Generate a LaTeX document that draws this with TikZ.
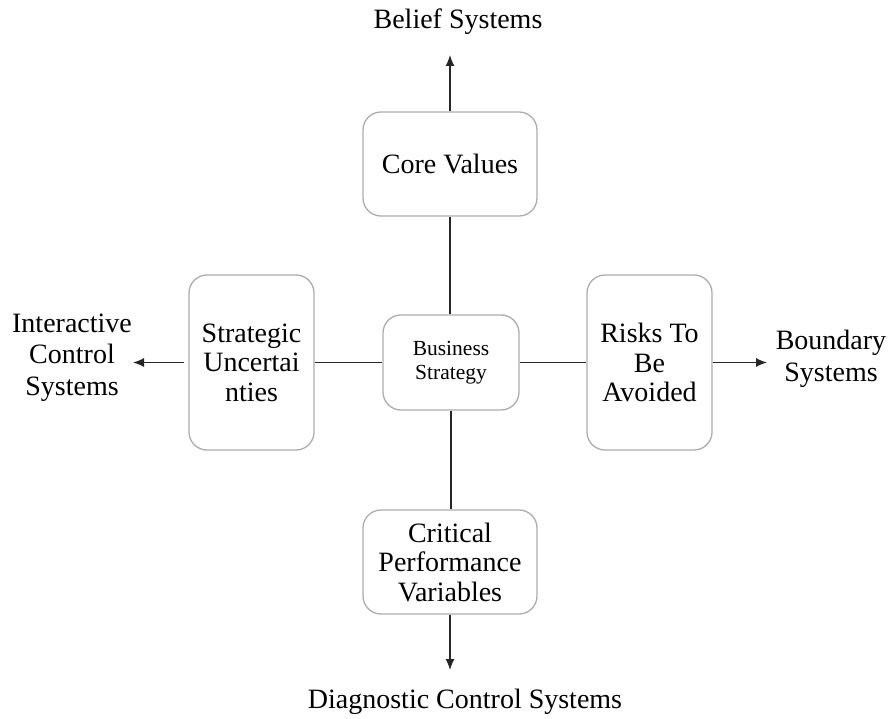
\documentclass[tikz,border=0pt]{standalone}
\usepackage{fontspec}
\setmainfont{Liberation Serif}
\usetikzlibrary{arrows.meta}
\begin{document}
\begin{tikzpicture}[x=1pt,y=-1pt,
  box/.style={draw=black!32, line width=1.3pt, rounded corners=18pt, fill=white,
    inner sep=0pt, align=center, font=\fontsize{28}{29.5}\selectfont},
  outerlabel/.style={inner sep=0pt, align=center, font=\fontsize{28}{31.5}\selectfont},
  link/.style={line width=1.2pt, black!85},
  outarrow/.style={link, -{Latex[length=11pt,width=9pt]}}]
  \path[use as bounding box] (0,0) rectangle (888,719);

  % boxes
  \node[box, minimum width=174pt, minimum height=104pt] (core) at (450,164) {Core Values};
  \node[box, minimum width=136pt, minimum height=95pt, font=\fontsize{21.5}{24.5}\selectfont] (biz) at (451,362.5) {Business\\Strategy};
  \node[box, minimum width=125pt, minimum height=175pt] (unc) at (251.5,362.5) {Strategic\\Uncertai\\nties};
  \node[box, minimum width=125pt, minimum height=175pt] (risk) at (649.5,362.5) {Risks To\\Be\\Avoided};
  \node[box, minimum width=174pt, minimum height=104pt] (crit) at (450,562) {Critical\\Performance\\Variables};

  % outer labels
  \node[outerlabel] (belief) at (458,22) {Belief Systems};
  \node[outerlabel] (interactive) at (72,357.5) {Interactive\\Control\\Systems};
  \node[outerlabel] (boundary) at (831,359) {Boundary\\Systems};
  \node[outerlabel] (diag) at (465,702) {Diagnostic Control Systems};

  % arrow ends
  \coordinate (belieftip) at (450,55);
  \coordinate (intertip) at (133,362.5);
  \coordinate (boundtip) at (767,362.5);
  \coordinate (diagtip) at (450,670);

  % links to the centre
  \draw[link] (core.south) -- (core.south |- biz.north);
  \draw[link] (biz.south) -- (biz.south |- crit.north);
  \draw[link] (unc.east) -- (biz.west);
  \draw[link] (biz.east) -- (risk.west);

  % arrows outward
  \draw[outarrow] (core.north) -- (belieftip);
  \draw[outarrow] ([xshift=-4pt]unc.west) -- (intertip);
  \draw[outarrow] (risk.east) -- (boundtip);
  \draw[outarrow] (crit.south) -- (diagtip);
\end{tikzpicture}
\end{document}
